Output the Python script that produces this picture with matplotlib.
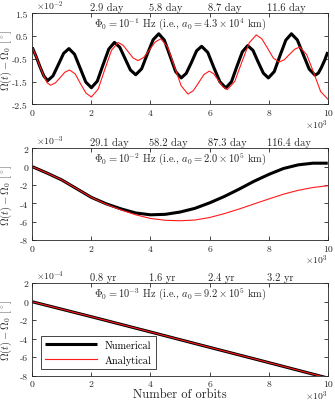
import matplotlib
matplotlib.use("Agg")
import matplotlib.pyplot as plt

plt.rcParams['font.family'] = ['cmr10', 'DejaVu Serif']
plt.rcParams['mathtext.fontset'] = 'cm'
plt.rcParams['axes.unicode_minus'] = False
plt.rcParams['axes.formatter.use_mathtext'] = True

# panel 1 : Phi0 = 1e-1 Hz  (values in 1e-2 deg, x in 1e3 orbits)
x1_num = [0, 0.13, 0.26, 0.39, 0.52, 0.70, 0.88, 1.06, 1.24, 1.43, 1.62, 1.81,
          2.0, 2.20, 2.39, 2.59, 2.78, 2.96, 3.14, 3.32, 3.5, 3.70, 3.89, 4.09,
          4.28, 4.47, 4.66, 4.85, 5.04, 5.21, 5.39, 5.56, 5.73, 5.94, 6.14, 6.35,
          6.55, 6.74, 6.92, 7.11, 7.29, 7.47, 7.64, 7.82, 7.99, 8.19, 8.38, 8.58,
          8.77, 8.97, 9.17, 9.37, 9.57, 9.68, 9.78, 9.89, 10.0]
y1_num = [0, -0.40, -0.85, -1.25, -1.46, -1.25, -0.76, -0.26, -0.05, -0.30, -0.91, -1.52,
          -1.77, -1.48, -0.78, -0.07, 0.22, 0.01, -0.49, -0.99, -1.20, -0.94, -0.30, 0.34,
          0.60, 0.32, -0.37, -1.06, -1.34, -1.14, -0.65, -0.15, 0.05, -0.22, -0.87, -1.51,
          -1.78, -1.51, -0.85, -0.19, 0.08, -0.13, -0.63, -1.13, -1.34, -1.06, -0.37, 0.32,
          0.60, 0.33, -0.31, -0.95, -1.22, -1.13, -0.89, -0.58, -0.20]
x1_ana = [0, 0.13, 0.26, 0.39, 0.50, 0.62, 0.78, 0.94, 1.10, 1.26, 1.45, 1.63, 1.82,
          2.0, 2.23, 2.45, 2.68, 2.9, 3.07, 3.24, 3.41, 3.58, 3.77, 3.97, 4.16,
          4.35, 4.58, 4.81, 5.04, 5.27, 5.45, 5.63, 5.81, 5.99, 6.14, 6.30, 6.45,
          6.6, 6.85, 7.09, 7.34, 7.58, 7.77, 7.97, 8.16, 8.35, 8.53, 8.70, 8.88,
          9.05, 9.29, 9.53, 9.76, 10.0]
y1_ana = [0, -0.40, -0.85, -1.25, -1.55, -1.66, -1.56, -1.33, -1.09, -0.99, -1.16, -1.59, -2.01,
          -2.18, -1.83, -0.98, -0.13, 0.22, 0.10, -0.18, -0.46, -0.58, -0.44, -0.10, 0.24,
          0.38, 0.02, -0.84, -1.69, -2.05, -1.90, -1.55, -1.19, -1.04, -1.16, -1.45, -1.73,
          -1.85, -1.50, -0.65, 0.20, 0.55, 0.38, -0.05, -0.47, -0.64, -0.54, -0.31, -0.08,
          0.02, -0.32, -1.13, -1.94, -2.27]

# panel 2 : Phi0 = 1e-2 Hz  (values in 1e-3 deg)
x2 = [0, 0.5, 1, 1.5, 2, 2.5, 3, 3.5, 4, 4.5, 5, 5.5, 6, 6.5, 7, 7.5, 8, 8.5, 9, 9.5, 10]
y2_num = [0, -0.7, -1.45, -2.4, -3.35, -4.05, -4.6, -5.05, -5.25, -5.2, -4.95,
          -4.55, -3.95, -3.25, -2.45, -1.6, -0.85, -0.2, 0.2, 0.38, 0.38]
y2_ana = [0, -0.7, -1.45, -2.4, -3.35, -4.1, -4.72, -5.25, -5.65, -5.85, -5.9,
          -5.82, -5.55, -5.12, -4.62, -4.07, -3.53, -3.0, -2.58, -2.27, -2.08]

# panel 3 : Phi0 = 1e-3 Hz  (values in 1e-4 deg)
x3 = [0, 2, 4, 6, 8, 10]
y3_num = [0, -1.62, -3.27, -4.93, -6.58, -8.25]
y3_ana = [0, -1.62, -3.27, -4.93, -6.58, -8.25]

titles = [r"$\Phi_0 = 10^{-1}$ Hz (i.e., $a_0 = 4.3\times10^4$ km)",
          r"$\Phi_0 = 10^{-2}$ Hz (i.e., $a_0 = 2.0\times10^5$ km)",
          r"$\Phi_0 = 10^{-3}$ Hz (i.e., $a_0 = 9.2\times10^5$ km)"]
top_labels = [["2.9 day", "5.8 day", "8.7 day", "11.6 day"],
              ["29.1 day", "58.2 day", "87.3 day", "116.4 day"],
              ["0.8 yr", "1.6 yr", "2.4 yr", "3.2 yr"]]
top_pos = [2, 4, 6, 8]
y_exp = ["-2", "-3", "-4"]
y_ticks = [[-2.5, -1.5, -0.5, 0.5, 1.5],
           [-8, -6, -4, -2, 0, 2],
           [-8, -6, -4, -2, 0, 2]]
y_lims = [(-2.5, 1.5), (-8, 2), (-8, 2)]
x_ticks = [0, 2, 4, 6, 8, 10]

data = [(x1_num, y1_num, x1_ana, y1_ana),
        (x2, y2_num, x2, y2_ana),
        (x3, y3_num, x3, y3_ana)]

fig = plt.figure(figsize=(3.35, 4.02), dpi=100)
rects = [[0.0964, 0.738, 0.882, 0.2264],
         [0.0964, 0.4005, 0.882, 0.228],
         [0.0964, 0.0629, 0.882, 0.23]]
edge = '#262626'

for i in range(3):
    ax = fig.add_axes(rects[i])
    xn, yn, xa, ya = data[i]
    ax.plot(xn, yn, '-', color='k', lw=2.2, label='Numerical',
            solid_joinstyle='round', solid_capstyle='butt')
    ax.plot(xa, ya, '-', color='#ff1a1a', lw=0.8, label='Analytical',
            solid_joinstyle='round')

    ax.set_xlim(0, 10)
    ax.set_ylim(*y_lims[i])
    ax.set_xticks(x_ticks)
    ax.set_xticklabels([str(t) for t in x_ticks])
    ax.set_yticks(y_ticks[i])
    ax.set_yticklabels([('%g' % t) for t in y_ticks[i]])
    ax.tick_params(direction='in', top=True, right=True, length=3, width=0.6,
                   labelsize=7.0, colors=edge, pad=3)
    for s in ax.spines.values():
        s.set_color(edge)
        s.set_linewidth(0.6)

    # top axis labels (time)
    for xp, lab in zip(top_pos, top_labels[i]):
        ax.text(xp - 0.05, 1.015, lab, transform=ax.get_xaxis_transform(),
                ha='left', va='bottom', fontsize=7.5, color=edge)

    # exponent markers
    ax.text(0.012, 1.015, r"$\times10^{%s}$" % y_exp[i], transform=ax.transAxes,
            ha='left', va='bottom', fontsize=7, color=edge)
    ax.text(1.0, -0.14, r"$\times10^{3}$", transform=ax.transAxes,
            ha='right', va='top', fontsize=7, color=edge)

    ax.text(0.5, 0.89, titles[i], transform=ax.transAxes, ha='center',
            va='center', fontsize=7.5, color=edge)

    ax.set_ylabel(r"$\Omega(t) - \Omega_0$ [$^\circ$]", fontsize=7.6, color=edge)
    ax.yaxis.set_label_coords(-0.061, 0.5)

    if i == 2:
        ax.set_xlabel("Number of orbits", fontsize=9, color=edge, labelpad=0)
        leg = ax.legend(loc='lower left', bbox_to_anchor=(0.028, 0.073),
                        borderaxespad=0, fontsize=7.5, fancybox=False,
                        handlelength=5.0, framealpha=1, edgecolor=edge)
        leg.get_frame().set_linewidth(0.6)

fig.savefig("out.png", dpi=100)
plt.close(fig)
